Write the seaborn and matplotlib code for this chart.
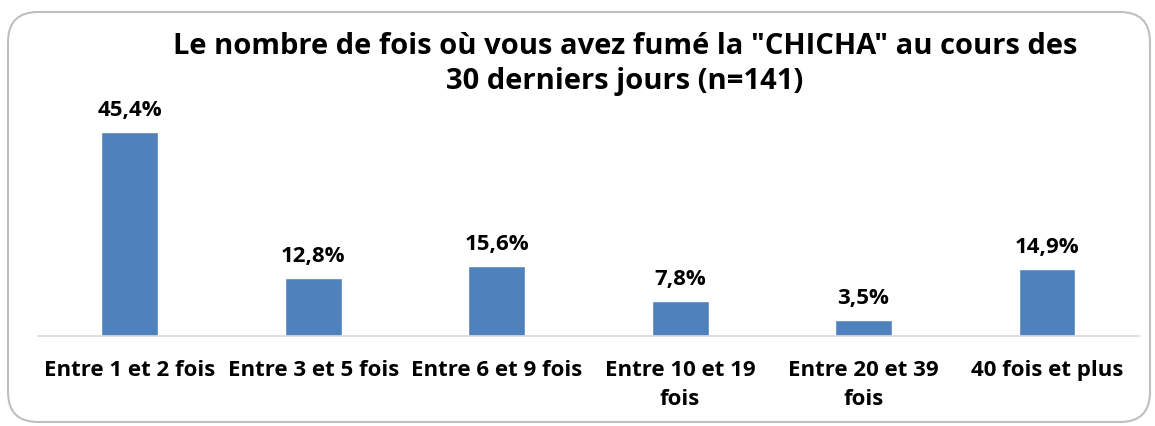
import matplotlib
matplotlib.use("Agg")
import matplotlib.pyplot as plt
import seaborn as sns
import pandas as pd
from matplotlib.patches import FancyBboxPatch

categories = ["Entre 1 et 2 fois", "Entre 3 et 5 fois", "Entre 6 et 9 fois",
              "Entre 10 et 19\nfois", "Entre 20 et 39\nfois", "40 fois et plus"]
values = [45.4, 12.8, 15.6, 7.8, 3.5, 14.9]
value_labels = ["45,4%", "12,8%", "15,6%", "7,8%", "3,5%", "14,9%"]
title = 'Le nombre de fois où vous avez fumé la "CHICHA" au cours des\n30 derniers jours (n=141)'

sns.set_theme(style="white")
plt.rcParams['font.family'] = ['Open Sans', 'DejaVu Sans']

df = pd.DataFrame({"cat": categories, "val": values})

fig = plt.figure(figsize=(11.55, 4.26), dpi=100)
ax = fig.add_axes([0.0329, 0.2113, 0.953, 0.5275])

sns.barplot(data=df, x="cat", y="val", color="#4F81BD", width=0.31,
            saturation=1, ax=ax)

ax.set_ylim(0, 50)
ax.set_xlim(-0.5, len(categories) - 0.5)
ax.set_yticks([])
ax.set_xlabel("")
ax.set_ylabel("")
for s in ["top", "right", "left"]:
    ax.spines[s].set_visible(False)
ax.spines["bottom"].set_color("#D9D9D9")
ax.spines["bottom"].set_linewidth(1.2)
ax.tick_params(axis="x", length=0, pad=17, colors="black")
for lab in ax.get_xticklabels():
    lab.set_fontsize(16)
    lab.set_fontweight("bold")
    lab.set_color("black")
    lab.set_linespacing(1.5)

for i, (v, t) in enumerate(zip(values, value_labels)):
    ax.annotate(t, (i, v), xytext=(0, 8), textcoords="offset points",
                ha="center", va="bottom", fontsize=16, fontweight="bold",
                color="black")

fig.text(0.541, 0.85, title, ha="center", va="center", fontsize=21,
         fontweight="bold", linespacing=1.25, color="black")

border = FancyBboxPatch((8 / 1155, 4 / 426), 1142 / 1155, 410 / 426,
                        boxstyle="round,pad=0,rounding_size=0.026",
                        transform=fig.transFigure, facecolor="none",
                        edgecolor="#BFBFBF", linewidth=1.5,
                        mutation_aspect=1155 / 426)
fig.patches.append(border)

fig.savefig("out.png", dpi=100)
